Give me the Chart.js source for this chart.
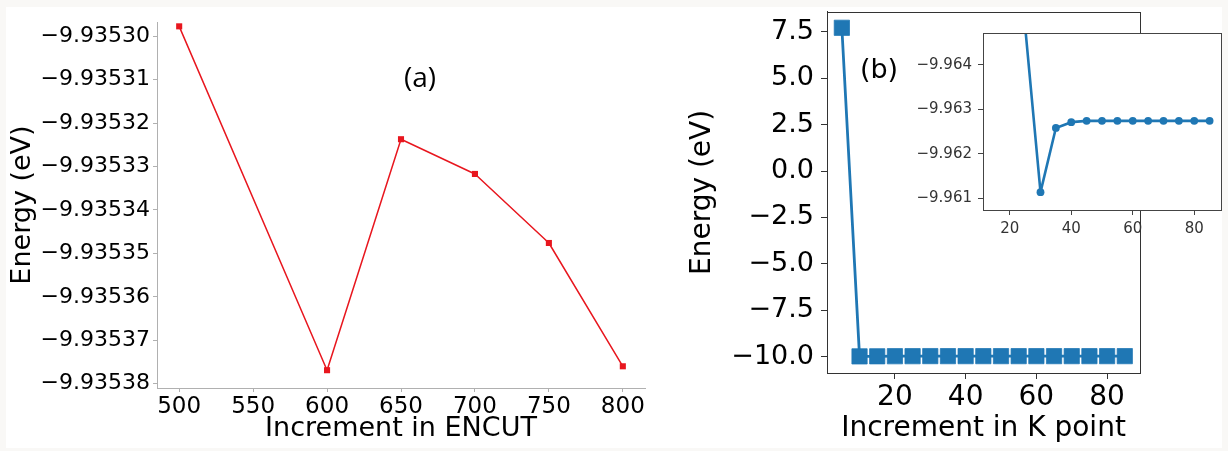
<!DOCTYPE html>
<html>
<head>
<meta charset="utf-8">
<script src="https://cdn.jsdelivr.net/npm/chart.js@4/dist/chart.umd.min.js"></script>
<style>
  html, body { margin: 0; padding: 0; background: #f9f8f6; }
  #page { position: relative; width: 1228px; height: 451px; overflow: hidden; }
  #sheet { position: absolute; left: 6px; top: 7px; width: 1216px; height: 441px; background: #fff; }
  canvas { position: absolute; }
</style>
</head>
<body>
<div id="page">
  <div id="sheet"></div>
  <canvas id="encutChart" width="660" height="451" style="left:0;top:0"></canvas>
  <canvas id="kpointChart" width="568" height="451" style="left:660px;top:0"></canvas>
  <canvas id="insetChart" width="323" height="220" style="left:905px;top:25px"></canvas>
</div>
<script>
// (a) energy vs ENCUT
const encutValues = [500, 600, 650, 700, 750, 800];
const encutEnergy = [-9.9352977, -9.9353769, -9.9353237, -9.9353317, -9.9353476, -9.9353760];
const encutXTicks = [500, 550, 600, 650, 700, 750, 800];
const encutYTicks = [-9.93530, -9.93531, -9.93532, -9.93533, -9.93534, -9.93535, -9.93536, -9.93537, -9.93538];

// (b) energy vs K point
const kpointValues = [5, 10, 15, 20, 25, 30, 35, 40, 45, 50, 55, 60, 65, 70, 75, 80, 85];
const kpointEnergy = [7.71, -9.975, -9.970, -9.967, -9.96486, -9.96114, -9.96258, -9.96271, -9.96274,
                      -9.96274, -9.96274, -9.96274, -9.96274, -9.96274, -9.96274, -9.96274, -9.96274];
const kpointXTicks = [20, 40, 60, 80];
const kpointYTicks = [7.5, 5.0, 2.5, 0.0, -2.5, -5.0, -7.5, -10.0];
const insetXTicks = [20, 40, 60, 80];
const insetYTicks = [-9.964, -9.963, -9.962, -9.961];

const FONT = "'DejaVu Sans', sans-serif";
const BLUE = '#1f77b4';
const RED = '#e8161e';

Chart.defaults.color = '#000';
Chart.defaults.font.family = FONT;

const minus = s => s.replace('-', '\u2212');
const points = (xs, ys) => xs.map((x, i) => ({ x: x, y: ys[i] }));
const fixedTicks = list => scale => { scale.ticks = list.map(v => ({ value: v })); };

// white axes background + optional full box + panel label
const panelPlugin = {
    id: 'panel',
    beforeDraw(chart, args, opts) {
        if (!opts.fill) return;
        const a = chart.chartArea;
        const ctx = chart.ctx;
        ctx.save();
        ctx.fillStyle = '#fff';
        ctx.fillRect(a.left, a.top, a.right - a.left, a.bottom - a.top);
        ctx.restore();
    },
    afterDraw(chart, args, opts) {
        const ctx = chart.ctx;
        const a = chart.chartArea;
        ctx.save();
        if (opts.box) {
            ctx.strokeStyle = opts.box;
            ctx.lineWidth = 1;
            ctx.strokeRect(Math.round(a.left) + 0.5, Math.round(a.top) + 0.5,
                Math.round(a.right - a.left), Math.round(a.bottom - a.top));
        }
        if (opts.label) {
            ctx.fillStyle = '#000';
            ctx.font = opts.labelFont;
            ctx.textAlign = 'center';
            ctx.textBaseline = 'middle';
            ctx.fillText(opts.label, opts.labelX, opts.labelY);
        }
        ctx.restore();
    }
};

function axis(o) {
    return {
        type: 'linear',
        reverse: !!o.reverse,
        min: o.min,
        max: o.max,
        afterBuildTicks: fixedTicks(o.ticks),
        afterFit: s => {
            // fixed box sizes, no extra room for overhanging labels
            if (s.isHorizontal()) { s.height = o.size2; s.paddingLeft = 0; s.paddingRight = 0; }
            else { s.width = o.size2; s.paddingTop = 0; s.paddingBottom = 0; }
        },
        border: { display: true, color: o.line, width: 1 },
        grid: { drawOnChartArea: false, drawTicks: true, tickLength: o.tickLength, color: o.line },
        ticks: {
            autoSkip: false,
            maxRotation: 0,
            padding: o.padding,
            color: o.tickColor || '#000',
            font: { family: FONT, size: o.size },
            callback: o.format
        },
        title: o.title ? {
            display: true,
            text: o.title,
            color: '#000',
            font: { family: FONT, size: o.titleSize, lineHeight: 1 },
            padding: o.titlePadding
        } : { display: false }
    };
}

function baseOptions(padding, scales, panel) {
    return {
        responsive: false,
        maintainAspectRatio: false,
        animation: false,
        devicePixelRatio: 1,
        layout: { padding: padding },
        plugins: { legend: { display: false }, tooltip: { enabled: false }, panel: panel },
        scales: scales
    };
}

new Chart(document.getElementById('encutChart'), {
    type: 'line',
    plugins: [panelPlugin],
    data: {
        datasets: [{
            data: points(encutValues, encutEnergy),
            borderColor: RED,
            backgroundColor: RED,
            borderWidth: 1.5,
            borderJoinStyle: 'round',
            pointStyle: 'rect',
            pointRadius: 4.3,
            pointBorderWidth: 0,
            tension: 0
        }]
    },
    options: baseOptions({ top: 22, right: 15, left: 0, bottom: 0 }, {
        x: axis({
            min: 485, max: 815, ticks: encutXTicks, line: '#b0b0b0', tickLength: 4, padding: 1, size: 23,
            format: v => String(v), size2: 63,
            title: 'Increment in ENCUT', titleSize: 27, titlePadding: { top: 0, bottom: 8.5 }
        }),
        y: axis({
            min: -9.935381, max: -9.9352967, ticks: encutYTicks, line: '#b0b0b0', tickLength: 4, padding: 3, size: 22,
            format: v => minus(v.toFixed(5)), size2: 157,
            title: 'Energy (eV)', titleSize: 27, titlePadding: { top: 9, bottom: 0 }
        })
    }, { label: '(a)', labelX: 420, labelY: 79, labelFont: "28px 'Open Sans', sans-serif" })
});

new Chart(document.getElementById('kpointChart'), {
    type: 'line',
    plugins: [panelPlugin],
    data: {
        datasets: [{
            data: points(kpointValues, kpointEnergy),
            borderColor: BLUE,
            backgroundColor: BLUE,
            borderWidth: 2.8,
            borderJoinStyle: 'round',
            pointStyle: 'rect',
            pointRadius: 10.8,
            pointBorderWidth: 1,
            pointBorderColor: 'rgba(31,119,180,0.75)',
            tension: 0
        }]
    },
    options: baseOptions({ top: 10, right: 88, left: 0, bottom: 0 }, {
        x: axis({
            min: 0.8, max: 89.3, ticks: kpointXTicks, line: '#333', tickLength: 6, padding: 2, size: 28,
            format: v => String(v), size2: 78,
            title: 'Increment in K point', titleSize: 28, titlePadding: { top: 0, bottom: 8 }
        }),
        y: axis({
            min: -10.87, max: 8.57, ticks: kpointYTicks, line: '#333', tickLength: 6, padding: 7, size: 27,
            format: v => minus(v.toFixed(1)), size2: 167,
            title: 'Energy (eV)', titleSize: 28, titlePadding: { top: 28.5, bottom: 0 }
        })
    }, { box: '#333', label: '(b)', labelX: 219, labelY: 71, labelFont: "27px 'DejaVu Sans', sans-serif" })
});

new Chart(document.getElementById('insetChart'), {
    type: 'line',
    plugins: [panelPlugin],
    data: {
        datasets: [{
            data: points(kpointValues, kpointEnergy),
            borderColor: BLUE,
            backgroundColor: BLUE,
            borderWidth: 2.6,
            borderJoinStyle: 'round',
            pointStyle: 'circle',
            pointRadius: 3.9,
            pointBorderWidth: 0,
            tension: 0
        }]
    },
    options: baseOptions({ top: 8, right: 7, left: 0, bottom: 0 }, {
        x: axis({
            min: 11.3, max: 88.7, ticks: insetXTicks, line: '#444', tickLength: 5, padding: 5, size: 15,
            tickColor: '#333', format: v => String(v), size2: 35
        }),
        y: axis({
            reverse: true, min: -9.96471, max: -9.96074, ticks: insetYTicks, line: '#444', tickLength: 5, padding: 6, size: 15,
            tickColor: '#333', format: v => minus(v.toFixed(3)), size2: 78
        })
    }, { fill: true, box: '#444' })
});
</script>
</body>
</html>
